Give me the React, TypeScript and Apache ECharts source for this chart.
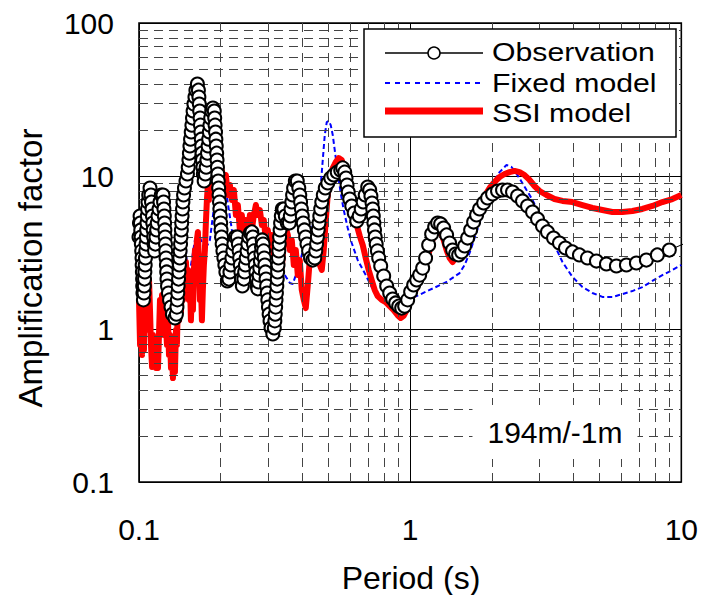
import React, { useEffect, useRef } from "react";
import * as echarts from "echarts";

// Period (s), amplification factor
const observation: [number, number][] = [
  [0.1, 3.99], [0.1004, 4.93], [0.1009, 5.48], [0.1012, 4.93], [0.1015, 4.44], [0.1018, 3.99],
  [0.102, 3.59], [0.1023, 3.24], [0.1026, 2.91], [0.1027, 2.62], [0.1029, 2.36], [0.1031, 2.12],
  [0.1032, 1.91], [0.1034, 1.72], [0.1038, 1.55], [0.1043, 1.72], [0.1046, 1.91], [0.1048, 2.12],
  [0.1051, 2.36], [0.1054, 2.62], [0.1056, 2.91], [0.1059, 3.24], [0.1062, 3.59], [0.1064, 3.99],
  [0.1067, 4.44], [0.107, 4.93], [0.1073, 5.48], [0.1075, 6.09], [0.1079, 6.76], [0.1086, 7.51],
  [0.1098, 8.35], [0.1107, 7.51], [0.1112, 6.76], [0.1117, 6.09], [0.1121, 5.48], [0.1124, 4.93],
  [0.1128, 4.44], [0.1132, 3.99], [0.1136, 3.59], [0.1141, 3.24], [0.1149, 3.59], [0.1155, 3.99],
  [0.1162, 4.44], [0.1168, 4.93], [0.1175, 5.48], [0.1185, 6.09], [0.1195, 6.76], [0.1208, 7.51],
  [0.1226, 7.51], [0.1232, 6.76], [0.1236, 6.09], [0.124, 5.48], [0.1243, 4.93], [0.1246, 4.44],
  [0.1249, 3.99], [0.1252, 3.59], [0.1255, 3.24], [0.1258, 2.91], [0.1262, 2.62], [0.1265, 2.36],
  [0.1268, 2.12], [0.1274, 1.91], [0.1284, 1.72], [0.1296, 1.55], [0.1312, 1.39], [0.1328, 1.25],
  [0.1357, 1.18], [0.1374, 1.25], [0.138, 1.39], [0.1385, 1.55], [0.139, 1.72], [0.1394, 1.91],
  [0.1399, 2.12], [0.1404, 2.36], [0.1409, 2.62], [0.1414, 2.91], [0.1418, 3.24], [0.1423, 3.59],
  [0.1428, 3.99], [0.1433, 4.44], [0.1437, 4.93], [0.1442, 5.48], [0.1447, 6.09], [0.1452, 6.76],
  [0.146, 7.51], [0.1471, 8.35], [0.149, 9.27], [0.1509, 10.3], [0.1519, 11.4], [0.1528, 12.7],
  [0.1534, 14.1], [0.1541, 15.7], [0.1549, 17.4], [0.1558, 19.4], [0.1567, 21.5], [0.1575, 23.9],
  [0.1583, 26.6], [0.1594, 29.5], [0.1608, 32.8], [0.1621, 36.4], [0.1642, 39.9], [0.1656, 36.4],
  [0.1663, 32.8], [0.1669, 29.5], [0.1674, 26.6], [0.168, 23.9], [0.1685, 21.5], [0.1691, 19.4],
  [0.1697, 17.4], [0.1703, 15.7], [0.1708, 14.1], [0.1714, 12.7], [0.172, 11.4], [0.1727, 10.3],
  [0.1739, 9.27], [0.1757, 10.3], [0.1769, 11.4], [0.178, 12.7], [0.1789, 14.1], [0.1798, 15.7],
  [0.1807, 17.4], [0.1817, 19.4], [0.1826, 21.5], [0.1838, 23.9], [0.1854, 26.6], [0.1873, 27.8],
  [0.1895, 26.6], [0.1902, 23.9], [0.1908, 21.5], [0.1915, 19.4], [0.1921, 17.4], [0.1927, 15.7],
  [0.1934, 14.1], [0.194, 12.7], [0.1947, 11.4], [0.1954, 10.3], [0.196, 9.27], [0.1967, 8.35],
  [0.1974, 7.51], [0.1981, 6.76], [0.1987, 6.09], [0.1994, 5.48], [0.2001, 4.93], [0.2007, 4.44],
  [0.2016, 3.99], [0.2026, 3.59], [0.2039, 3.24], [0.2056, 2.91], [0.2073, 2.62], [0.2091, 2.36],
  [0.2118, 2.06], [0.2145, 2.12], [0.2164, 2.36], [0.2182, 2.62], [0.2201, 2.91], [0.2219, 3.24],
  [0.2238, 3.59], [0.2267, 3.99], [0.2306, 3.99], [0.2325, 3.59], [0.2339, 3.24], [0.2351, 2.91],
  [0.2363, 2.62], [0.2375, 2.36], [0.2387, 2.12], [0.2405, 1.91], [0.2436, 2.12], [0.2453, 2.36],
  [0.2469, 2.62], [0.2486, 2.91], [0.2503, 3.24], [0.252, 3.59], [0.2542, 3.99], [0.2574, 4.24],
  [0.2607, 4.31], [0.263, 3.99], [0.2643, 3.59], [0.2657, 3.24], [0.267, 2.91], [0.2684, 2.62],
  [0.2698, 2.36], [0.2712, 2.12], [0.2728, 1.91], [0.2744, 1.83], [0.276, 2.03], [0.2774, 2.25],
  [0.2789, 2.5], [0.2803, 2.78], [0.2815, 3.09], [0.2829, 3.44], [0.2846, 3.82], [0.2868, 3.59],
  [0.2882, 3.24], [0.2897, 2.91], [0.2911, 2.62], [0.2926, 2.36], [0.2941, 2.12], [0.2956, 1.91],
  [0.2971, 1.72], [0.2986, 1.55], [0.3001, 1.39], [0.3019, 1.25], [0.3042, 1.13], [0.3068, 1.015],
  [0.3115, 0.928], [0.3155, 1.015], [0.3169, 1.13], [0.318, 1.25], [0.3191, 1.39], [0.3201, 1.55],
  [0.3212, 1.72], [0.3223, 1.91], [0.3234, 2.12], [0.3245, 2.36], [0.3256, 2.62], [0.3267, 2.91],
  [0.3278, 3.24], [0.3289, 3.59], [0.33, 3.99], [0.3314, 4.44], [0.3328, 4.93], [0.3348, 5.48],
  [0.3377, 6.09], [0.342, 6.09], [0.3464, 5.48], [0.3523, 4.93], [0.3584, 4.93], [0.3614, 5.48],
  [0.3636, 6.09], [0.366, 6.76], [0.3685, 7.51], [0.3717, 8.35], [0.3771, 9.27], [0.3835, 9.27],
  [0.3884, 8.35], [0.3917, 7.51], [0.3944, 6.76], [0.3971, 6.09], [0.4001, 5.48], [0.4035, 4.93],
  [0.4073, 4.44], [0.4115, 3.99], [0.4164, 3.59], [0.4221, 3.24], [0.429, 2.91], [0.4374, 2.82],
  [0.4449, 2.91], [0.4487, 3.24], [0.4517, 3.59], [0.4548, 3.99], [0.4579, 4.44], [0.461, 4.93],
  [0.4642, 5.48], [0.4677, 6.09], [0.4721, 6.76], [0.4782, 7.51], [0.4863, 8.35], [0.4967, 9.0],
  [0.5095, 9.7], [0.5226, 10.15], [0.5384, 10.6], [0.5545, 10.9], [0.564, 11.3], [0.5737, 10.6],
  [0.5801, 9.7], [0.5851, 8.73], [0.591, 7.86], [0.5986, 7.07], [0.6089, 6.37], [0.6219, 5.73],
  [0.6352, 5.08], [0.6488, 5.48], [0.66, 6.09], [0.6712, 6.76], [0.6827, 7.51], [0.6973, 8.48],
  [0.7093, 8.1], [0.7166, 7.4], [0.7234, 6.66], [0.7276, 6.09], [0.7313, 5.48], [0.735, 4.93],
  [0.7388, 4.44], [0.7432, 3.99], [0.7495, 3.59], [0.7572, 3.24], [0.7655, 2.91], [0.7787, 2.58],
  [0.7987, 2.22], [0.8193, 1.91], [0.8404, 1.72], [0.862, 1.57], [0.8842, 1.48], [0.9071, 1.41],
  [0.9304, 1.37], [0.9544, 1.41], [0.979, 1.55], [1.004, 1.75], [1.03, 1.94], [1.057, 2.09],
  [1.084, 2.25], [1.112, 2.5], [1.14, 2.91], [1.17, 3.54], [1.2, 4.18], [1.231, 4.64],
  [1.263, 4.93], [1.295, 4.86], [1.329, 4.57], [1.363, 4.12], [1.398, 3.65], [1.434, 3.28],
  [1.471, 3.09], [1.509, 3.05], [1.548, 3.19], [1.588, 3.49], [1.629, 3.93], [1.671, 4.44],
  [1.714, 5.0], [1.758, 5.56], [1.803, 6.09], [1.866, 6.66], [1.93, 7.18], [2.013, 7.63],
  [2.1, 7.98], [2.191, 8.1], [2.286, 8.1], [2.385, 7.86], [2.489, 7.4], [2.596, 6.87],
  [2.709, 6.37], [2.827, 5.82], [2.949, 5.24], [3.076, 4.71], [3.209, 4.31], [3.378, 3.93],
  [3.553, 3.65], [3.739, 3.38], [3.968, 3.19], [4.21, 3.05], [4.507, 2.91], [4.863, 2.78],
  [5.294, 2.66], [5.762, 2.58], [6.273, 2.62], [6.828, 2.7], [7.431, 2.82], [8.158, 3.05],
  [9.034, 3.28], [10.17, 3.59],
];

const fixedModel: [number, number][] = [
  [0.1, 3.28], [0.1034, 2.43], [0.107, 5.16], [0.1098, 6.97], [0.1126, 4.12], [0.1165, 5.16],
  [0.1205, 6.46], [0.1247, 3.28], [0.129, 1.8], [0.1334, 1.44], [0.138, 1.8], [0.1428, 3.28],
  [0.1477, 4.44], [0.1515, 1.94], [0.1608, 3.82], [0.1677, 3.99], [0.175, 3.28], [0.1826, 3.82],
  [0.1905, 6.97], [0.1971, 10.15], [0.2004, 11.28], [0.2039, 10.6], [0.2091, 8.1], [0.2145, 5.99],
  [0.2201, 4.44], [0.2277, 3.28], [0.2355, 3.05], [0.2457, 3.28], [0.2564, 3.82], [0.2675, 3.54],
  [0.2791, 3.28], [0.2911, 3.05], [0.3037, 2.74], [0.3169, 2.62], [0.3306, 2.5], [0.3449, 2.25],
  [0.3599, 2.0], [0.3691, 1.97], [0.3787, 2.25], [0.3917, 2.74], [0.4052, 3.38], [0.4193, 3.93],
  [0.4337, 4.57], [0.4487, 5.31], [0.4602, 6.46], [0.4681, 8.73], [0.4761, 12.73], [0.4842, 18.5],
  [0.4925, 22.5], [0.5009, 22.9], [0.5095, 21.5], [0.5183, 18.5], [0.527, 14.8], [0.5361, 11.8],
  [0.5453, 9.42], [0.5545, 7.74], [0.5689, 5.99], [0.5885, 4.57], [0.6089, 3.65], [0.6407, 2.82],
  [0.6798, 2.32], [0.7214, 1.88], [0.7591, 1.62], [0.8056, 1.55], [0.8769, 1.44], [0.9544, 1.39],
  [1.039, 1.62], [1.18, 1.8], [1.363, 2.03], [1.522, 2.32], [1.588, 2.62], [1.657, 3.14],
  [1.728, 3.93], [1.803, 4.93], [1.913, 6.97], [2.013, 9.0], [2.137, 10.6], [2.267, 11.8],
  [2.365, 11.45], [2.447, 10.6], [2.553, 9.42], [2.686, 8.1], [2.827, 6.97], [3.0, 5.56],
  [3.182, 4.57], [3.406, 3.54], [3.645, 2.74], [3.968, 2.19], [4.319, 1.88], [4.7, 1.72],
  [5.117, 1.62], [5.57, 1.62], [6.064, 1.69], [6.6, 1.77], [7.184, 1.88], [7.822, 2.06],
  [8.512, 2.25], [9.265, 2.43], [10.0, 2.62],
];

const ssiModel: [number, number][] = [
  [0.1, 1.55], [0.1009, 0.787], [0.1017, 1.33], [0.1026, 0.677], [0.1034, 1.06], [0.1043, 0.729],
  [0.1052, 1.55], [0.1061, 0.985], [0.107, 1.75], [0.1079, 1.06], [0.1089, 2.09], [0.1098, 1.33],
  [0.1107, 0.787], [0.1117, 0.565], [0.1126, 0.914], [0.1136, 0.627], [0.1146, 0.848], [0.1155, 0.556],
  [0.1165, 0.787], [0.1175, 0.556], [0.1185, 0.914], [0.1195, 1.55], [0.1205, 1.06], [0.1216, 1.67],
  [0.1226, 1.23], [0.1236, 0.914], [0.1247, 1.44], [0.1257, 1.06], [0.1268, 0.787], [0.1279, 1.14],
  [0.129, 0.677], [0.1301, 0.914], [0.1312, 0.556], [0.1323, 0.729], [0.1334, 0.478], [0.1346, 0.677],
  [0.1357, 0.524], [0.1369, 0.985], [0.138, 0.787], [0.1392, 1.55], [0.1404, 1.14], [0.1416, 1.8],
  [0.1428, 1.29], [0.144, 2.03], [0.1452, 1.55], [0.1465, 2.43], [0.1477, 1.64], [0.149, 2.74],
  [0.1502, 1.94], [0.1515, 2.43], [0.1528, 1.55], [0.1541, 2.09], [0.1554, 1.14], [0.1567, 1.8],
  [0.1581, 1.33], [0.1594, 2.43], [0.1608, 3.28], [0.1621, 2.74], [0.1635, 3.82], [0.1649, 4.31],
  [0.1663, 2.74], [0.1677, 1.55], [0.1691, 2.09], [0.1706, 1.14], [0.172, 1.8], [0.1735, 2.62],
  [0.175, 3.28], [0.1765, 5.0], [0.178, 6.97], [0.1795, 8.73], [0.181, 6.97], [0.1826, 9.42],
  [0.1857, 10.15], [0.1889, 8.1], [0.1905, 10.6], [0.1937, 6.97], [0.1954, 9.7], [0.1987, 8.1],
  [0.2022, 10.9], [0.2056, 8.73], [0.2091, 10.15], [0.2127, 7.51], [0.2164, 8.73], [0.2201, 6.97],
  [0.2238, 8.1], [0.2277, 5.56], [0.2315, 6.46], [0.2355, 4.44], [0.2395, 5.56], [0.2436, 3.82],
  [0.2478, 5.16], [0.252, 4.12], [0.2564, 5.56], [0.2607, 4.44], [0.2652, 5.56], [0.2698, 6.46],
  [0.2744, 5.56], [0.2791, 5.99], [0.2839, 4.78], [0.2886, 5.16], [0.2936, 3.82], [0.2986, 4.44],
  [0.3037, 3.28], [0.3089, 4.12], [0.3142, 3.05], [0.3196, 3.82], [0.325, 2.25], [0.3306, 3.28],
  [0.3363, 2.5], [0.342, 3.82], [0.3479, 4.57], [0.3538, 4.12], [0.3599, 3.28], [0.366, 3.82],
  [0.3723, 2.62], [0.3787, 3.28], [0.3851, 2.25], [0.3917, 2.82], [0.3984, 1.8], [0.4052, 1.55],
  [0.4122, 1.37], [0.4193, 1.94], [0.4264, 2.82], [0.4337, 3.28], [0.4411, 3.54], [0.4487, 3.82],
  [0.4564, 3.05], [0.4642, 2.62], [0.4721, 2.43], [0.4801, 3.28], [0.4884, 5.16], [0.4967, 7.51],
  [0.5052, 9.42], [0.5183, 11.28], [0.5317, 12.35], [0.5453, 13.1], [0.5594, 12.73], [0.5737, 10.9],
  [0.5885, 9.0], [0.6037, 6.97], [0.6193, 5.73], [0.6352, 4.78], [0.6516, 4.06], [0.6684, 3.54],
  [0.6856, 2.91], [0.7033, 2.43], [0.7214, 2.09], [0.74, 1.8], [0.7591, 1.64], [0.7853, 1.55],
  [0.8124, 1.5], [0.8404, 1.41], [0.8694, 1.33], [0.8993, 1.23], [0.9223, 1.18], [0.9464, 1.22],
  [0.979, 1.37], [1.013, 1.59], [1.048, 1.8], [1.084, 2.09], [1.131, 2.5], [1.18, 3.28],
  [1.231, 4.31], [1.263, 4.71], [1.295, 4.31], [1.329, 3.82], [1.363, 3.28], [1.398, 2.91],
  [1.434, 2.74], [1.471, 2.91], [1.522, 3.28], [1.588, 3.82], [1.657, 4.57], [1.728, 5.56],
  [1.803, 6.46], [1.882, 7.4], [1.963, 8.35], [2.048, 9.14], [2.137, 9.85], [2.229, 10.3],
  [2.326, 10.6], [2.427, 10.8], [2.532, 10.6], [2.641, 10.15], [2.756, 9.42], [2.875, 8.6],
  [3.0, 7.98], [3.182, 7.51], [3.406, 7.07], [3.645, 6.87], [3.968, 6.76], [4.319, 6.46],
  [4.7, 6.18], [5.117, 5.99], [5.57, 5.82], [6.064, 5.82], [6.6, 5.9], [7.184, 6.09],
  [7.822, 6.37], [8.512, 6.76], [9.265, 7.07], [10.0, 7.51],
];

const seriesNames = ["Observation", "Fixed model", "SSI model"];
const xMinorGrid = [0.2, 0.3, 0.4, 0.5, 0.6, 0.7, 0.8, 0.9, 2, 3, 4, 5, 6, 7, 8, 9];
const yMinorGrid = [0.2, 0.3, 0.4, 0.5, 0.6, 0.7, 0.8, 0.9, 2, 3, 4, 5, 6, 7, 8, 9, 20, 30, 40, 50, 60, 70, 80, 90];
const xAxisTitle = "Period (s)";
const yAxisTitle = "Amplification factor";
const siteLabel = "194m/-1m";

const FONT = '"Liberation Sans", Arial, sans-serif';

export default function App() {
  const ref = useRef<HTMLDivElement>(null);
  useEffect(() => {
    document.body.style.margin = "0";
    const chart = echarts.init(ref.current!, null, { renderer: "svg" });
    const axisCommon = {
      type: "log" as const,
      logBase: 10,
      axisLine: { show: false },
      axisTick: { show: false },
      splitLine: { show: true, lineStyle: { color: "#000", width: 1 } },
    };
    const legendText = (text: string, y: number) => ({
      type: "text",
      z: 101,
      x: 492,
      y,
      scaleX: 1.14,
      style: { text, fontSize: 26.5, fontFamily: FONT, fill: "#000", verticalAlign: "middle" },
    });
    chart.setOption({
      animation: false,
      backgroundColor: "#fff",
      grid: { left: 139, right: 19, top: 23, bottom: 113, show: true, borderColor: "#000", borderWidth: 1.6 },
      xAxis: {
        ...axisCommon,
        min: 0.1,
        max: 10,
        axisLabel: { fontSize: 30, color: "#000", fontFamily: FONT, margin: 32 },
      },
      yAxis: {
        ...axisCommon,
        min: 0.1,
        max: 100,
        axisLabel: { fontSize: 30, color: "#000", fontFamily: FONT, margin: 25 },
      },
      series: [
        {
          type: "line",
          name: "grid",
          data: [[1, 1]],
          symbol: "none",
          lineStyle: { opacity: 0 },
          silent: true,
          z: 1,
          markLine: {
            silent: true,
            symbol: ["none", "none"],
            label: { show: false },
            lineStyle: { type: [9, 6], color: "#444", width: 1 },
            data: [
              ...xMinorGrid.map((v) => ({ xAxis: v })),
              ...yMinorGrid.map((v) => ({ yAxis: v })),
            ],
          },
        },
        {
          type: "line",
          name: seriesNames[1],
          data: fixedModel,
          symbol: "none",
          z: 3,
          lineStyle: { color: "#0000ff", width: 2, type: [5, 3] },
        },
        {
          type: "line",
          name: seriesNames[2],
          data: ssiModel,
          symbol: "none",
          z: 4,
          lineStyle: { color: "#ff0000", width: 6, join: "round" },
        },
        {
          type: "line",
          name: seriesNames[0],
          data: observation,
          symbol: "circle",
          symbolSize: 13,
          showAllSymbol: true,
          z: 5,
          lineStyle: { color: "#000", width: 1 },
          itemStyle: { color: "#fff", borderColor: "#000", borderWidth: 2 },
        },
      ],
      graphic: [
        {
          type: "rect",
          z: 100,
          shape: { x: 364, y: 29, width: 312, height: 108 },
          style: { fill: "#fff", stroke: "#000", lineWidth: 1.5 },
        },
        { type: "line", z: 101, shape: { x1: 385, y1: 53, x2: 483, y2: 53 }, style: { stroke: "#000", lineWidth: 1.5 } },
        { type: "circle", z: 102, shape: { cx: 434, cy: 53, r: 6 }, style: { fill: "#fff", stroke: "#000", lineWidth: 1.5 } },
        { type: "line", z: 101, shape: { x1: 385, y1: 83, x2: 483, y2: 83 }, style: { stroke: "#0000ff", lineWidth: 2, lineDash: [5, 5] } },
        { type: "line", z: 101, shape: { x1: 385, y1: 111, x2: 483, y2: 111 }, style: { stroke: "#ff0000", lineWidth: 7 } },
        legendText(seriesNames[0], 52),
        legendText(seriesNames[1], 82.5),
        legendText(seriesNames[2], 113),
        {
          type: "text",
          z: 100,
          x: 555,
          y: 432,
          style: {
            text: siteLabel,
            fontSize: 30,
            fontFamily: FONT,
            fill: "#000",
            align: "center",
            verticalAlign: "middle",
            backgroundColor: "#fff",
            padding: [12, 15],
          },
        },
        {
          type: "text",
          x: 411,
          y: 578,
          style: { text: xAxisTitle, fontSize: 32, fontFamily: FONT, fill: "#000", align: "center", verticalAlign: "middle" },
        },
        {
          type: "text",
          x: 30,
          y: 268,
          rotation: Math.PI / 2,
          style: { text: yAxisTitle, fontSize: 33, fontFamily: FONT, fill: "#000", align: "center", verticalAlign: "middle" },
        },
      ],
    });
    return () => chart.dispose();
  }, []);
  return <div ref={ref} style={{ width: 701, height: 595 }} />;
}
